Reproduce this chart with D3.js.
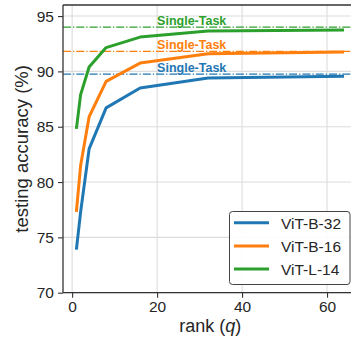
<!DOCTYPE html>
<html>
<head>
<meta charset="utf-8">
<script src="https://cdn.jsdelivr.net/npm/d3@7"></script>
<style>
  body { margin: 0; background: #fff; }
  svg { display: block; font-family: "Liberation Sans", Arial, sans-serif; }
</style>
</head>
<body>
<svg id="chart" width="351" height="339"></svg>
<script>
// ranks and accuracies
const ranks = [1, 2, 4, 8, 16, 32, 64];
const models = ['ViT-B-32', 'ViT-B-16', 'ViT-L-14'];
const accB32 = [73.9, 77.3, 83.0, 86.7, 88.5, 89.4, 89.55];
const accB16 = [77.3, 81.5, 85.9, 89.1, 90.75, 91.6, 91.75];
const accL14 = [84.8, 87.9, 90.4, 92.15, 93.1, 93.65, 93.75];
const singleTask = [89.75, 91.8, 94.0];
const colors = ['#1f77b4', '#ff7f0e', '#2ca02c'];
const xTicks = [0, 20, 40, 60];
const yTicks = [70, 75, 80, 85, 90, 95];

const series = [accB32, accB16, accL14];

const svg = d3.select('#chart');
const margin = { top: 5, left: 63 };
const plotW = 294.4, plotH = 287.7;

const x = d3.scaleLinear().domain([-2.15, 67.15]).range([margin.left, margin.left + plotW]);
const y = d3.scaleLinear().domain([70, 96]).range([margin.top + plotH, margin.top]);

const graph = svg.append('g');

// grid
graph.append('g').selectAll('line').data(xTicks).enter().append('line')
  .attr('x1', d => x(d)).attr('x2', d => x(d))
  .attr('y1', y(70)).attr('y2', y(96))
  .attr('stroke', '#dcdcdc').attr('stroke-width', 1.1);
graph.append('g').selectAll('line').data(yTicks).enter().append('line')
  .attr('x1', x(-2.15)).attr('x2', x(67.15))
  .attr('y1', d => y(d)).attr('y2', d => y(d))
  .attr('stroke', '#dcdcdc').attr('stroke-width', 1.1);

// single-task reference lines
graph.append('g').selectAll('line').data(singleTask).enter().append('line')
  .attr('x1', x(-2.15)).attr('x2', x(67.15))
  .attr('y1', d => y(d)).attr('y2', d => y(d))
  .attr('stroke', (d, i) => colors[i]).attr('stroke-width', 1.2)
  .attr('stroke-dasharray', '8,2,1.3,2');

// curves
const line = d3.line().x((d, i) => x(ranks[i])).y(d => y(d));
graph.append('g').selectAll('path').data(series).enter().append('path')
  .attr('d', d => line(d))
  .attr('fill', 'none')
  .attr('stroke', (d, i) => colors[i])
  .attr('stroke-width', 3)
  .attr('stroke-linejoin', 'round');

// single-task labels
graph.append('g').selectAll('text').data(singleTask).enter().append('text')
  .attr('x', x(20)).attr('y', d => y(d) - 2.6)
  .attr('fill', (d, i) => colors[i])
  .attr('font-size', '12.5px').attr('font-weight', 'bold')
  .text('Single-Task');

// axes
const xAxis = d3.axisBottom(x).tickValues(xTicks).tickSize(5).tickPadding(3);
const yAxis = d3.axisLeft(y).tickValues(yTicks).tickSize(5).tickPadding(4);

const xAxisGroup = svg.append('g').attr('transform', `translate(0, ${y(70)})`).call(xAxis);
const yAxisGroup = svg.append('g').attr('transform', `translate(${margin.left}, 0)`).call(yAxis);

[xAxisGroup, yAxisGroup].forEach(g => {
  g.select('.domain').remove();
  g.selectAll('line').attr('stroke', '#333').attr('stroke-width', 1.1);
  g.selectAll('text').attr('fill', '#262626').attr('font-size', '15.5px')
    .attr('font-family', '"Liberation Sans", Arial, sans-serif');
});

// spines: left, bottom, top
svg.append('line').attr('x1', margin.left).attr('x2', margin.left)
  .attr('y1', y(96)).attr('y2', y(70)).attr('stroke', '#333').attr('stroke-width', 1.3);
svg.append('line').attr('x1', margin.left).attr('x2', 351)
  .attr('y1', y(70)).attr('y2', y(70)).attr('stroke', '#333').attr('stroke-width', 1.3);
svg.append('line').attr('x1', margin.left).attr('x2', 351)
  .attr('y1', y(96)).attr('y2', y(96)).attr('stroke', '#333').attr('stroke-width', 1.3);

// axis labels
svg.append('text')
  .attr('transform', `translate(28, ${margin.top + plotH / 2}) rotate(-90)`)
  .attr('text-anchor', 'middle').attr('font-size', '18.5px').attr('fill', '#262626')
  .text('testing accuracy (%)');

const xl = svg.append('text')
  .attr('x', margin.left + plotW / 2).attr('y', 332)
  .attr('text-anchor', 'middle').attr('font-size', '18px').attr('fill', '#262626');
xl.append('tspan').text('rank (');
xl.append('tspan').attr('font-style', 'italic').text('q');
xl.append('tspan').text(')');

// legend
const legend = svg.append('g');
legend.append('rect')
  .attr('x', 229.5).attr('y', 211.5).attr('width', 120.5).attr('height', 73)
  .attr('rx', 3).attr('fill', '#fff').attr('fill-opacity', 0.9)
  .attr('stroke', '#444').attr('stroke-width', 1);
const entries = legend.selectAll('g').data(models).enter().append('g')
  .attr('transform', (d, i) => `translate(0, ${222.7 + i * 23.2})`);
entries.append('line')
  .attr('x1', 234).attr('x2', 269)
  .attr('stroke', (d, i) => colors[i]).attr('stroke-width', 3);
entries.append('text')
  .attr('x', 281).attr('y', 6)
  .attr('font-size', '15.5px').attr('fill', '#262626')
  .text(d => d);
</script>
</body>
</html>
